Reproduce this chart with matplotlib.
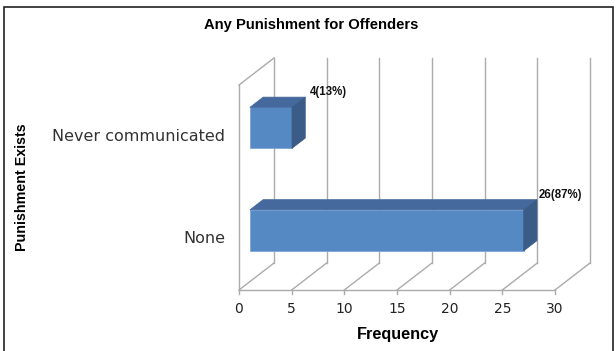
import matplotlib.pyplot as plt
from matplotlib.patches import Polygon, Rectangle

categories = ["None", "Never communicated"]
counts = [26, 4]
labels = ["26(87%)", "4(13%)"]
ticks = [0, 5, 10, 15, 20, 25, 30]

FRONT = "#5589C4"
TOP = "#45699C"
SIDE = "#3A5C87"
GRID = "#ABABAB"
BOLD = ["Liberation Sans", "DejaVu Sans"]

# front plane geometry (pixel-ish y, data x)
PX = 10.533            # pixels per unit of frequency
X0 = 239               # pixel of 0
FLOOR, CEIL = 290, 85  # front floor / top of the left wall
DX, DY = 35 / PX, -27  # full depth offset (x in data units, y in px)
BAND = (FLOOR - CEIL) / len(categories)
BAR_H = 0.4 * BAND
D0, D1 = 0.31, 0.69    # depth span of the bars

fig = plt.figure(figsize=(6.16, 3.51), dpi=100)
ax = fig.add_axes([0, 0, 1, 1])
ax.set_xlim(-X0 / PX, (616 - X0) / PX)
ax.set_ylim(351, 0)
ax.axis("off")


def off(x, y, d):
    return x + d * DX, y + d * DY


# walls and grid
for t in ticks:
    ax.plot([t, t + DX], [FLOOR, FLOOR + DY], color=GRID, lw=1)
    ax.plot([t + DX, t + DX], [FLOOR + DY, CEIL + DY], color=GRID, lw=1)
    ax.plot([t, t], [FLOOR, FLOOR + 4], color=GRID, lw=1)
    ax.text(t, 309, str(t), ha="center", va="center", fontsize=10,
            color="#222222")
ax.plot([ticks[0], ticks[-1]], [FLOOR, FLOOR], color=GRID, lw=1)
ax.plot([0, 0], [FLOOR, CEIL], color=GRID, lw=1)
ax.plot([0, DX], [CEIL, CEIL + DY], color=GRID, lw=1)

# bars
for i, (cat, v, lab) in enumerate(zip(categories, counts, labels)):
    yc = FLOOR - (i + 0.5) * BAND
    yt, yb = yc - BAR_H / 2, yc + BAR_H / 2
    x0, y0 = off(0, yt, D0)
    ax.barh(y0 + BAR_H / 2, v, height=BAR_H, left=x0, color=FRONT,
            edgecolor="#7FA6D6", lw=0.6, zorder=3)
    top = [off(0, yt, D0), off(v, yt, D0), off(v, yt, D1), off(0, yt, D1)]
    side = [off(v, yt, D0), off(v, yb, D0), off(v, yb, D1), off(v, yt, D1)]
    ax.add_patch(Polygon(top, closed=True, fc=TOP, ec=TOP, lw=0.5, zorder=3))
    ax.add_patch(Polygon(side, closed=True, fc=SIDE, ec=SIDE, lw=0.5, zorder=3))
    lx, ly = off(v, yt, D1)
    ax.text(lx + 23 / PX, ly - 5, lab, ha="center", va="center", fontsize=8.3,
            fontweight="bold", family=BOLD, color="#111111", zorder=4)
    ax.text(-14 / PX, yc, cat, ha="right", va="center", fontsize=11.5,
            color="#333333")

fig.text(311 / 616, 1 - 25 / 351, "Any Punishment for Offenders",
         ha="center", va="center", fontsize=10.6, fontweight="bold", family=BOLD)
fig.text(398 / 616, 1 - 334 / 351, "Frequency", ha="center", va="center",
         fontsize=11.7, fontweight="bold", family=BOLD)
fig.text(22 / 616, 1 - 187 / 351, "Punishment Exists", ha="center",
         va="center", rotation=90, fontsize=10.3, fontweight="bold", family=BOLD)

fig.patches.append(Rectangle((4 / 616, -0.05), 609 / 616, 1.05 - 7 / 351,
                             transform=fig.transFigure, fill=False,
                             ec="#222222", lw=1.2))

fig.savefig("out.png", dpi=100)
